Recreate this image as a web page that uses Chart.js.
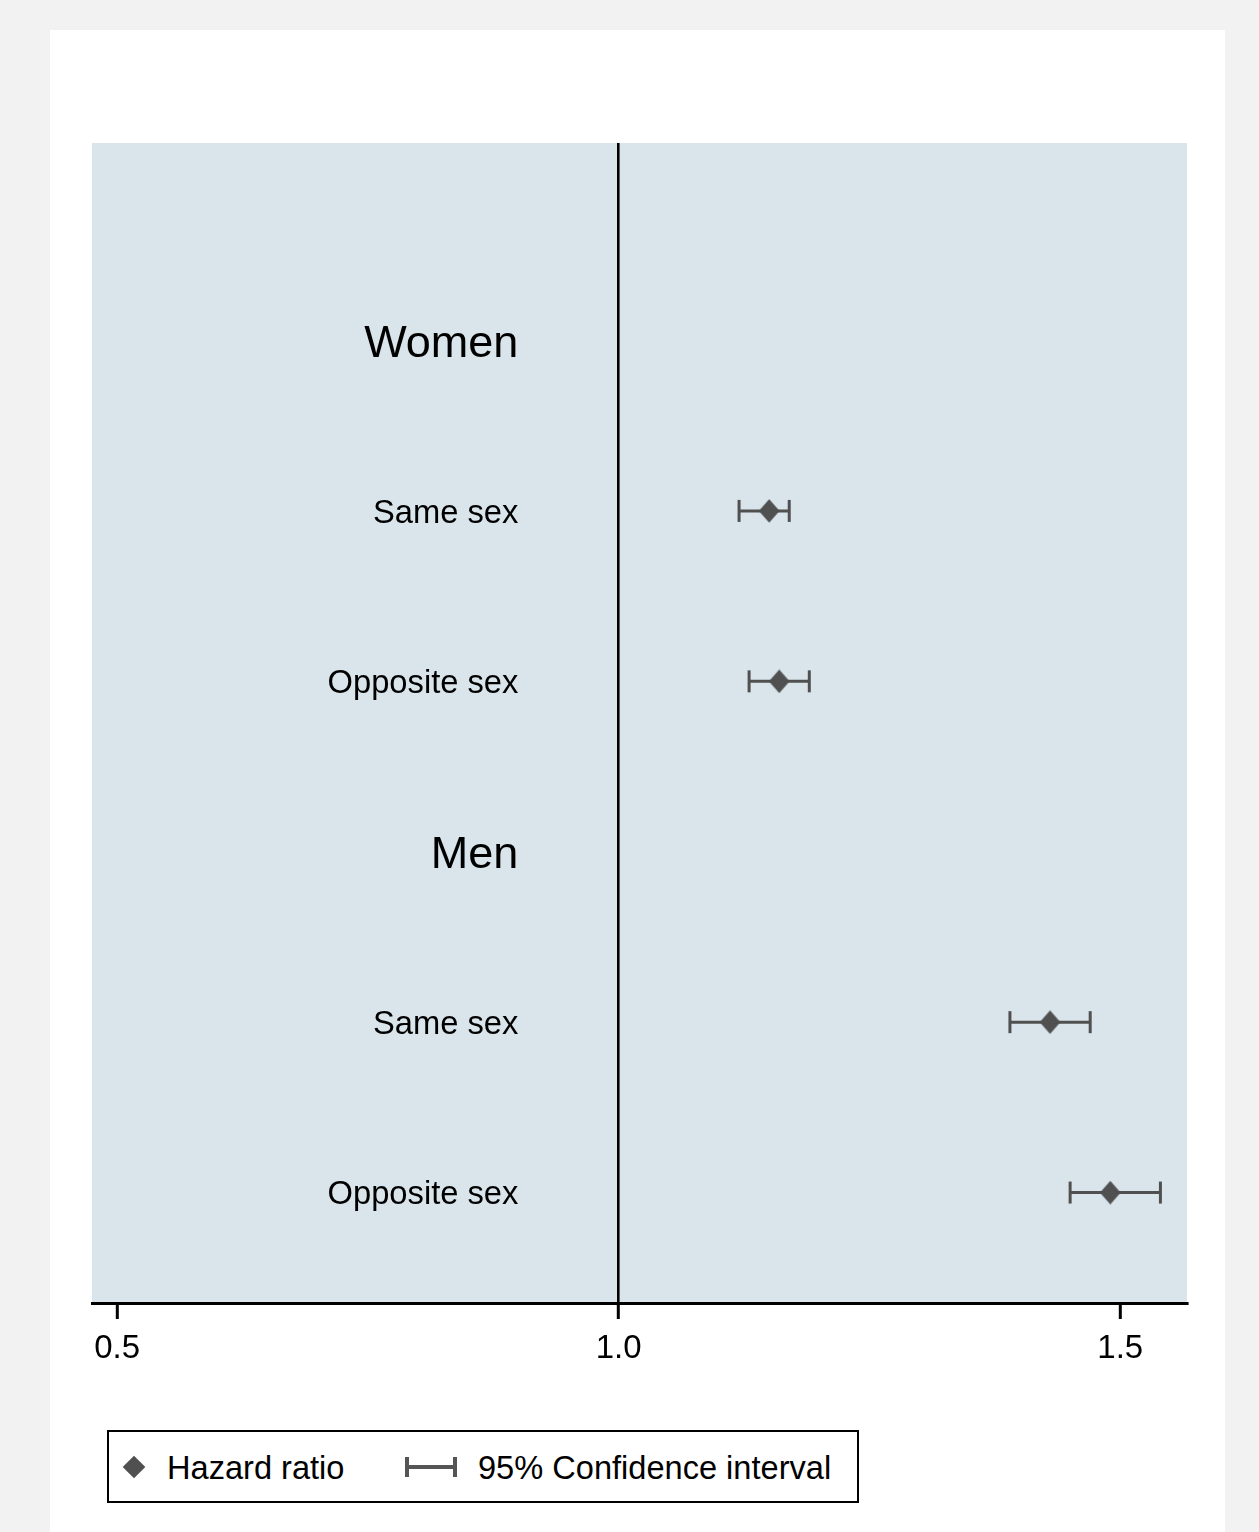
<!DOCTYPE html>
<html>
<head>
<meta charset="utf-8">
<script src="https://cdn.jsdelivr.net/npm/chart.js@4.4.1/dist/chart.umd.min.js"></script>
<style>
  html, body { margin: 0; padding: 0; }
  body { width: 1259px; height: 1532px; background: #f2f2f2; overflow: hidden; position: relative;
         font-family: "Liberation Sans", Arial, sans-serif; }
  #panel { position: absolute; left: 50px; top: 30px; width: 1175px; height: 1502px; background: #fff; }
  #mycanvas { position: absolute; left: 0; top: 0; }
  #legend { position: absolute; left: 57px; top: 1400px; width: 752px; height: 73px;
            border: 2px solid #000; box-sizing: border-box; }
  #legend .sym, #legend .txt { position: absolute; }
  #legend .txt { top: 1px; height: 69px; line-height: 69px; font-size: 32.6px; color: #000; white-space: nowrap; }
  #legend .diamond { width: 16px; height: 16px; background: #505050; transform: rotate(45deg); }
</style>
</head>
<body>
<div id="panel">
  <canvas id="mycanvas" width="1175" height="1380"></canvas>
  <div id="legend"></div>
</div>
<script>
// rows from top to bottom
var rowLabels = ["Women", "Same sex", "Opposite sex", "Men", "Same sex", "Opposite sex"];
var rowIsHeader = [true, false, false, true, false, false];
var rowPos = [1, 2, 3, 4, 5, 6];

// hazard ratios and 95% CI (null = header row)
var hazardRatio = [null, 1.15, 1.16, null, 1.43, 1.49];
var ciLower = [null, 1.12, 1.13, null, 1.39, 1.45];
var ciUpper = [null, 1.17, 1.19, null, 1.47, 1.54];

var xTicks = [0.5, 1.0, 1.5];
var refLine = 1.0;
var labelAt = 0.9;
var legendLabels = ["Hazard ratio", "95% Confidence interval"];

var markColor = "#505050";
Chart.defaults.font.family = '"Liberation Sans", Arial, sans-serif';

// diamond marker, a bit taller than wide
var diamond = document.createElement("canvas");
diamond.width = 21;
diamond.height = 24;
(function() {
	var d = diamond.getContext("2d");
	d.fillStyle = markColor;
	d.beginPath();
	d.moveTo(10.5, 0.3);
	d.lineTo(20.8, 12);
	d.lineTo(10.5, 23.7);
	d.lineTo(0.2, 12);
	d.closePath();
	d.fill();
})();

var hrPoints = [];
var datasets = [];
for (var i = 0; i < rowPos.length; i++) {
	if (hazardRatio[i] !== null) {
		hrPoints.push({x: hazardRatio[i], y: rowPos[i]});
	}
}
datasets.push({
	label: legendLabels[0],
	data: hrPoints,
	pointStyle: diamond,
	pointRadius: 11,
	pointHoverRadius: 11,
	pointBackgroundColor: markColor,
	pointBorderColor: markColor,
	pointBorderWidth: 0
});
for (var j = 0; j < rowPos.length; j++) {
	if (ciLower[j] === null) continue;
	datasets.push({
		label: legendLabels[1],
		data: [{x: ciLower[j], y: rowPos[j]}, {x: ciUpper[j], y: rowPos[j]}],
		showLine: true,
		borderColor: markColor,
		borderWidth: 3,
		pointStyle: "line",
		pointRotation: 90,
		pointRadius: 11,
		pointHoverRadius: 11,
		pointBorderColor: markColor,
		pointBorderWidth: 3
	});
}

var plotBackground = {
	id: "plotBackground",
	beforeDraw: function(chart) {
		var a = chart.chartArea;
		var ctx = chart.ctx;
		ctx.save();
		ctx.fillStyle = "#d9e5eb";
		ctx.fillRect(a.left, a.top, a.right - a.left, a.bottom - a.top);
		ctx.restore();
	}
};

var rowLabelPlugin = {
	id: "rowLabels",
	afterDatasetsDraw: function(chart) {
		var ctx = chart.ctx;
		var xs = chart.scales.x, ys = chart.scales.y;
		ctx.save();
		ctx.textAlign = "right";
		ctx.textBaseline = "middle";
		ctx.fillStyle = "#000";
		for (var k = 0; k < rowLabels.length; k++) {
			var size = rowIsHeader[k] ? 45 : 32.7;
			ctx.font = size + 'px "Liberation Sans", Arial, sans-serif';
			ctx.fillText(rowLabels[k], xs.getPixelForValue(labelAt), ys.getPixelForValue(rowPos[k]) + size * 0.08);
		}
		ctx.restore();
	}
};

var ctx = document.getElementById("mycanvas");
var forest = new Chart(ctx, {
	type: "scatter",
	data: {datasets: datasets},
	options: {
		responsive: false,
		animation: false,
		layout: {padding: {top: 113, left: 42, right: 38, bottom: 37}},
		plugins: {legend: {display: false}, tooltip: {enabled: false}},
		scales: {
			x: {
				type: "linear",
				min: 0.475,
				max: 1.5665,
				afterBuildTicks: function(scale) {
					scale.ticks = xTicks.map(function(v) { return {value: v}; });
				},
				afterFit: function(scale) { scale.height = 70; },
				ticks: {
					font: {size: 33},
					color: "#000",
					padding: 10.5,
					maxRotation: 0,
					callback: function(v) { return Number(v).toFixed(1); }
				},
				grid: {
					color: function(c) { return c.tick && c.tick.value === refLine ? "#000" : "rgba(0,0,0,0)"; },
					lineWidth: 2.6,
					tickColor: "#000",
					tickWidth: 3,
					tickLength: 16
				},
				border: {display: true, color: "#000", width: 3}
			},
			y: {
				type: "linear",
				display: false,
				reverse: true,
				min: -0.159,
				max: 6.648
			}
		}
	},
	plugins: [plotBackground, rowLabelPlugin]
});

// legend
var leg = document.getElementById("legend");
leg.innerHTML =
	'<div class="sym diamond" style="left:17px;top:26.5px"></div>' +
	'<span class="txt" style="left:58px">' + legendLabels[0] + '</span>' +
	'<svg class="sym" style="left:296px;top:25px" width="52" height="20">' +
	'<line x1="2" y1="0" x2="2" y2="20" stroke="#555" stroke-width="4"/>' +
	'<line x1="2" y1="10" x2="50" y2="10" stroke="#555" stroke-width="4"/>' +
	'<line x1="50" y1="0" x2="50" y2="20" stroke="#555" stroke-width="4"/>' +
	'</svg>' +
	'<span class="txt" style="left:369px">' + legendLabels[1] + '</span>';
</script>
</body>
</html>
